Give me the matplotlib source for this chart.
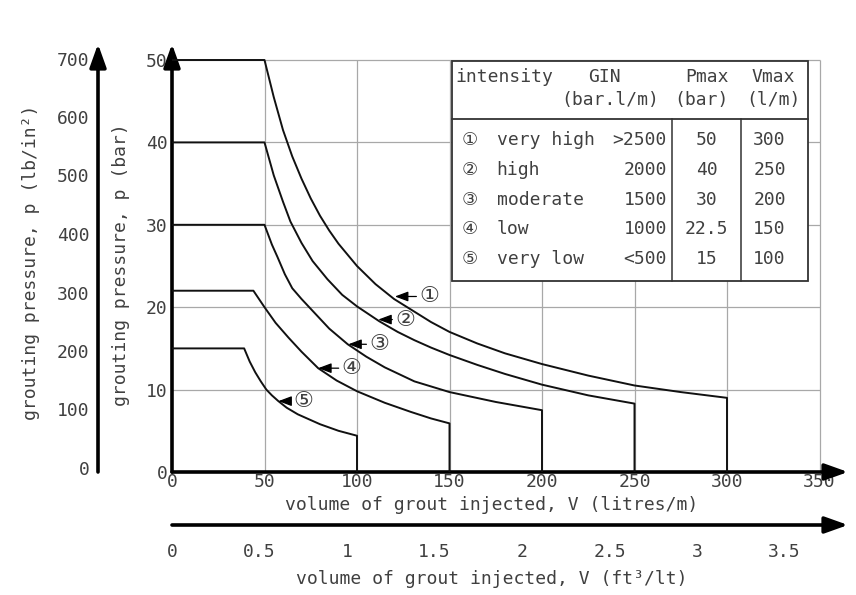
import matplotlib
matplotlib.use('Agg')
import matplotlib.pyplot as plt
from matplotlib.patches import Rectangle

# кривые: V (litres/m), p (bar)
v1 = [0, 50, 55, 60, 65, 70, 75, 80, 85, 90, 100, 110, 120, 130, 140, 150,
      165, 180, 200, 225, 250, 275, 300, 300]
p1 = [50, 50, 45.5, 41.5, 38.3, 35.6, 33.2, 31.1, 29.3, 27.7, 25.0, 22.8, 21.0,
      19.6, 18.2, 17.0, 15.6, 14.4, 13.1, 11.7, 10.5, 9.7, 9.0, 0]

v2 = [0, 50, 55, 60, 64, 70, 76, 84, 92, 100, 112, 122, 131, 140, 150, 165,
      180, 200, 225, 250, 250]
p2 = [40, 40, 36.0, 32.8, 30.4, 27.8, 25.6, 23.4, 21.5, 20.1, 18.3, 17.0, 16.0,
      15.1, 14.2, 13.0, 11.9, 10.6, 9.3, 8.3, 0]

v3 = [0, 50, 54, 57, 61, 65, 70, 75, 85, 95, 105, 115, 131, 150, 175, 200, 200]
p3 = [30, 30, 27.6, 26.1, 24.0, 22.3, 21.0, 19.8, 17.4, 15.5, 14.0, 12.7, 11.0,
      9.7, 8.5, 7.5, 0]

v4 = [0, 44, 47, 50, 56, 63, 70, 79, 89, 100, 115, 129, 140, 150, 150]
p4 = [22, 22, 21.0, 20.0, 18.1, 16.3, 14.6, 12.6, 11.1, 9.8, 8.4, 7.3, 6.5, 5.9, 0]

v5 = [0, 39, 42, 45, 48, 51, 54, 57.5, 62, 68, 74, 80, 90, 100, 100]
p5 = [15, 15, 13.4, 12.1, 11.0, 10.0, 9.3, 8.6, 7.8, 7.0, 6.4, 5.8, 5.0, 4.4, 0]

# таблица
marks = ['①', '②', '③', '④', '⑤']
intensity = ['very high', 'high', 'moderate', 'low', 'very low']
gin = ['>2500', '2000', '1500', '1000', '<500']
pmax = ['50', '40', '30', '22.5', '15']
vmax = ['300', '250', '200', '150', '100']

# оси
x_ticks = [0, 50, 100, 150, 200, 250, 300, 350]
y_ticks = [0, 10, 20, 30, 40, 50]
psi_ticks = [0, 100, 200, 300, 400, 500, 600, 700]
ft_ticks = [0, 0.5, 1, 1.5, 2, 2.5, 3, 3.5]
ft_labels = ['0', '0.5', '1', '1.5', '2', '2.5', '3', '3.5']

W, H = 856, 595
TXT = '#404040'
FS = 13

plt.rcParams['font.family'] = ['DejaVu Sans Mono', 'DejaVu Sans']


def px_box(x0, y_bottom, w, h):
    return [x0 / W, (H - y_bottom) / H, w / W, h / H]


def axis_arrow(ax, end):
    ax.annotate('', xy=end, xytext=(0, 0), xycoords='axes fraction',
                arrowprops=dict(arrowstyle='-|>,head_length=0.7,head_width=0.25',
                                color='k', lw=2.6, mutation_scale=20,
                                shrinkA=0, shrinkB=0))


fig = plt.figure(figsize=(W / 100, H / 100), dpi=100)

# основная область
ax = fig.add_axes(px_box(172, 472, 676, 428))
ax.set_xlim(0, 676 / 1.85)
ax.set_ylim(0, 428 / 8.24)
for s in ax.spines.values():
    s.set_visible(False)
axis_arrow(ax, (1, 0))
axis_arrow(ax, (0, 1))
ax.set_xticks(x_ticks)
ax.set_yticks(y_ticks)
ax.tick_params(length=0, labelsize=FS, labelcolor=TXT)
ax.tick_params(axis='x', pad=1)
ax.tick_params(axis='y', pad=3)

ax.hlines(y_ticks[1:], 0, 350, color='#a8a8a8', lw=0.9, zorder=1)
ax.vlines(x_ticks[1:], 0, 50, color='#a8a8a8', lw=0.9, zorder=1)

for v, p in [(v1, p1), (v2, p2), (v3, p3), (v4, p4), (v5, p5)]:
    ax.plot(v, p, color='#111111', lw=1.4, zorder=5, solid_joinstyle='round')

# подписи кривых
tips = [(120.5, 21.3), (111.5, 18.5), (95.3, 15.5), (79, 12.6), (57.5, 8.6)]
spots = [(139, 21.3), (126, 18.5), (112, 15.5), (97, 12.6), (71, 8.6)]
for m, tip, spot in zip(marks, tips, spots):
    ax.annotate(m, xy=tip, xytext=spot, ha='center', va='center',
                fontsize=16, color=TXT, zorder=6, family='DejaVu Sans',
                arrowprops=dict(arrowstyle='-|>,head_length=0.8,head_width=0.3',
                                color='k', lw=0.9, mutation_scale=10,
                                shrinkA=0, shrinkB=0))

# таблица
x0, x1, y0, y1 = 151.5, 344, 23.2, 49.9
ax.add_patch(Rectangle((x0, y0), x1 - x0, y1 - y0, fc='white', ec='#333333',
                       lw=1.3, zorder=3))
ax.plot([x0, x1], [42.9, 42.9], color='#333333', lw=1.3, zorder=4)
ax.plot([270, 270], [y0, 42.9], color='#333333', lw=1.1, zorder=4)
ax.plot([307.6, 307.6], [y0, 42.9], color='#333333', lw=1.1, zorder=4)

tkw = dict(fontsize=FS, color=TXT, va='center', zorder=4)
ax.text(153, 47.9, 'intensity', ha='left', **tkw)
ax.text(234, 47.9, 'GIN', ha='center', **tkw)
ax.text(289, 47.9, 'Pmax', ha='center', **tkw)
ax.text(325, 47.9, 'Vmax', ha='center', **tkw)
ax.text(263.5, 45.1, '(bar.l/m)', ha='right', **tkw)
ax.text(286, 45.1, '(bar)', ha='center', **tkw)
ax.text(325, 45.1, '(l/m)', ha='center', **tkw)

rows = [40.3, 36.7, 33.0, 29.5, 25.8]
for i, y in enumerate(rows):
    ax.text(161, y, marks[i], ha='center', **tkw)
    ax.text(175.5, y, intensity[i], ha='left', **tkw)
    ax.text(267.5, y, gin[i], ha='right', **tkw)
    ax.text(289, y, pmax[i], ha='center', **tkw)
    ax.text(323, y, vmax[i], ha='center', **tkw)

# нижняя ось в ft3
ax2 = fig.add_axes(px_box(172, 525, 676, 1))
ax2.set_xlim(0, 676 / 175)
for s in ax2.spines.values():
    s.set_visible(False)
ax2.set_yticks([])
ax2.set_xticks(ft_ticks)
ax2.set_xticklabels(ft_labels)
ax2.tick_params(length=0, labelsize=FS, labelcolor=TXT, pad=13)
axis_arrow(ax2, (1, 0))

# левая ось в lb/in2
ax3 = fig.add_axes(px_box(98, 472, 1, 428))
ax3.set_ylim(-4 / 0.585, (428 - 4) / 0.585)
for s in ax3.spines.values():
    s.set_visible(False)
ax3.set_xticks([])
ax3.set_yticks(psi_ticks)
ax3.tick_params(length=0, labelsize=FS, labelcolor=TXT, pad=6)
axis_arrow(ax3, (0, 1))

fig.text(492 / W, 1 - 505 / H, 'volume of grout injected, V (litres/m)',
         ha='center', va='center', fontsize=FS, color=TXT)
fig.text(492 / W, 1 - 579 / H, 'volume of grout injected, V (ft³/lt)',
         ha='center', va='center', fontsize=FS, color=TXT)
fig.text(121 / W, 1 - 265 / H, 'grouting pressure, p (bar)',
         ha='center', va='center', rotation=90, fontsize=FS, color=TXT)
fig.text(31 / W, 1 - 262 / H, 'grouting pressure, p (lb/in²)',
         ha='center', va='center', rotation=90, fontsize=FS, color=TXT)

fig.savefig('out.png', dpi=100, facecolor='white')
